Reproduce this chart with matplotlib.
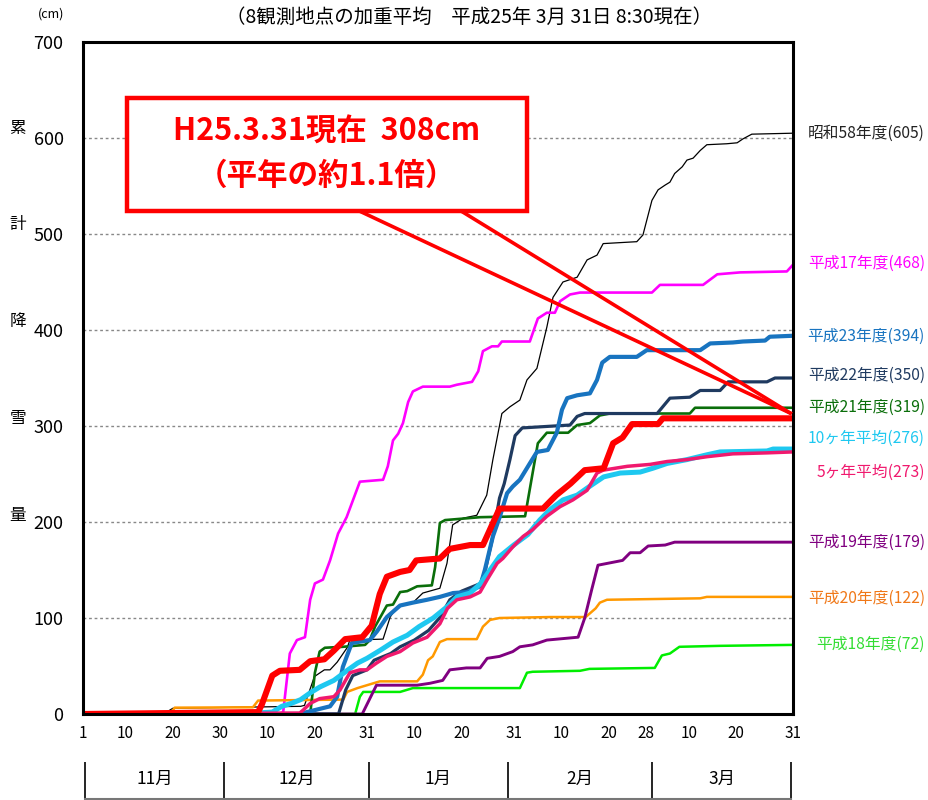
import matplotlib
matplotlib.use("Agg")
import matplotlib.pyplot as plt
from matplotlib.patches import Rectangle

plt.rcParams['font.family'] = ['Noto Sans CJK JP', 'DejaVu Sans']

# 日付インデックス: 0 = 11月1日, 150 = 3月31日
tick_days = [0, 9, 19, 29, 39, 49, 60, 70, 80, 91, 101, 111, 119, 128, 138, 150]
tick_labels = ["1", "10", "20", "30", "10", "20", "31", "10", "20", "31",
               "10", "20", "28", "10", "20", "31"]
month_names = ["11月", "12月", "1月", "2月", "3月"]
month_edges = [0.4, 29.8, 60.4, 89.8, 120.2, 149.6]

# 各年度の累計降雪量 (日インデックス, cm) — 図から読み取り
s58_days = [0, 17, 19, 46, 46.8, 48.9, 51, 52.2, 53.7, 55.8, 56.4, 63.4, 64.9, 66.4, 69.7, 71.8,
            75.4, 76.9, 78.1, 80.3, 83.2, 85.3, 86.6, 88.5, 90.2, 92.3, 93.8, 95.9, 98, 99.3,
            101.4, 104.4, 106.5, 108.6, 109.9, 117, 118.3, 120.2, 121.5, 123, 124, 125, 126.6,
            127.6, 128.9, 130.4, 131.8, 136, 138.2, 139.4, 141.3, 150]
s58_vals = [0, 0, 6, 8, 9, 39, 46, 46, 54, 69, 77, 78, 101, 112, 116, 126,
            131, 157, 197, 204, 207, 228, 265, 313, 320, 327, 348, 360, 403, 434,
            450, 455, 473, 478, 490, 492, 499, 535, 546, 551, 554, 563, 570,
            577, 579, 587, 593, 594, 595, 599, 604, 605]

h17_days = [0, 41.5, 42.3, 43.7, 45.2, 46.9, 48, 49, 50.7, 52.2, 53.9, 55.7, 58.5, 63.4, 64.4,
            65.5, 66.6, 67.6, 68.7, 69.7, 71.8, 77.5, 79, 82.2, 83.5, 84.5, 86.4, 87.7, 88.5,
            94.4, 96.1, 98, 99.7, 100.8, 102.9, 105, 120.2, 121.9, 131, 134, 138.8, 148.7, 150]
h17_vals = [0, 0, 2, 63, 77, 80, 119, 136, 140, 160, 188, 205, 242, 244, 258,
            285, 292, 303, 325, 336, 341, 341, 343, 346, 357, 378, 383, 383, 388,
            388, 412, 418, 418, 430, 437, 439, 439, 447, 447, 458, 460, 461, 468]

h23_days = [0, 45.8, 47.3, 52.2, 53.7, 54.9, 56.8, 60.6, 62.1, 64.2, 67, 69.7, 72.7, 75.4, 78.2,
            81.1, 83.9, 84.9, 86.6, 88.1, 89.6, 90.8, 92.3, 94.4, 95.9, 98.2, 100.1, 101.2,
            102.3, 104.4, 107.1, 108.6, 109.7, 111.3, 117, 119.1, 130.4, 132.5, 137.3, 139.4,
            144.1, 145.1, 150]
h23_vals = [0, 0, 2, 8, 18, 49, 74, 77, 86, 101, 113, 116, 119, 122, 126,
            127, 133, 150, 185, 206, 230, 237, 244, 261, 273, 275, 293, 317,
            329, 332, 334, 348, 366, 372, 372, 379, 379, 386, 387, 388,
            389, 393, 394]

h22_days = [0, 54, 55.5, 57, 60, 61.5, 65, 67, 70, 73, 75.5, 77.5, 80, 84, 85, 86.6, 88, 89,
            90.2, 91.3, 92.8, 102.9, 104.4, 106, 121.3, 124, 128.2, 130.4, 134.6, 136.3, 144.5,
            146.2, 150]
h22_vals = [0, 0, 25, 40, 46, 56, 63, 70, 77, 87, 101, 119, 128, 136, 150, 185, 225, 240,
            265, 290, 298, 301, 310, 313, 313, 329, 330, 337, 337, 346, 346,
            350, 350]

h21_days = [0, 48, 49, 50, 51.1, 54.9, 59.6, 60.6, 61.7, 64.2, 65.5, 67, 68.5, 70.6, 73.7, 74.4,
            75.4, 76.5, 83.9, 93.4, 95.1, 96.1, 98, 102.5, 104.4, 107.1, 109.2, 111.3, 128.2,
            129.3, 150]
h21_vals = [0, 0, 43, 65, 69, 70, 72, 77, 91, 113, 114, 127, 128, 133, 134, 153,
            199, 202, 205, 206, 254, 282, 293, 293, 301, 303, 311, 313, 313,
            319, 319]

avg10_days = [0, 33, 40, 42, 44, 46, 48, 50, 53, 56, 58, 60, 63, 65.5, 68.5, 71, 74, 77, 79, 81.8,
              84, 86, 88, 91, 94, 96.5, 98.7, 101.4, 104.4, 107, 110, 113.5, 117.7, 120.4, 123.4,
              127.6, 131.8, 134.6, 144.5, 145.8, 150]
avg10_vals = [0, 0, 2, 8, 11, 15, 22, 28, 35, 46, 53, 58, 67, 75, 82, 91, 100, 112, 122, 126,
              136, 150, 164, 176, 187, 202, 213, 223, 228, 237, 247, 251, 252, 256, 261,
              265, 270, 273, 274, 276, 276]

avg5_days = [0, 45.8, 46.5, 48, 50, 53, 54.3, 56.4, 58.5, 60, 62, 64.2, 67, 69.7, 72.7, 75.4, 77,
             79, 81.8, 83.9, 85.4, 87.5, 88.7, 90.8, 93, 95, 98, 100.8, 103.5, 106.5, 108.6,
             109.9, 115, 119.8, 123.4, 127.6, 131.8, 137.3, 144.5, 150]
avg5_vals = [0, 1, 4, 11, 16, 18, 25, 43, 46, 46, 53, 60, 65, 74, 80, 94, 110,
             119, 122, 127, 140, 157, 162, 174, 185, 192, 206, 216, 223, 233, 251,
             254, 258, 260, 263, 265, 268, 271, 272, 273]

h19_days = [0, 59, 62, 70.6, 73.3, 76, 77.5, 81, 83.9, 85.4, 88, 90.8, 92.3, 95, 98, 104.6, 106,
            107.5, 108.8, 114, 115.6, 117.7, 119.4, 123, 125, 150]
h19_vals = [0, 0, 30, 30, 32, 35, 46, 48, 48, 58, 60, 65, 70, 72, 77, 80, 100,
            130, 155, 160, 168, 168, 175, 176, 179, 179]

h20_days = [0, 18.4, 19.4, 35.9, 37, 55, 55.8, 58, 59, 62.7, 70.6, 71.8, 72.9, 73.9, 75.4, 76.9,
            83.2, 84.5, 86, 88, 98.7, 106.2, 108.3, 109.2, 110.7, 130.4, 131.8, 150]
h20_vals = [0, 0, 6.6, 7, 14, 15, 23, 27, 28.5, 34, 34, 41, 56, 60, 75, 78,
            78, 91, 98, 100, 101, 101, 110, 116, 119, 120.5, 122, 122]

h18_days = [0, 57.5, 58.5, 59.2, 67, 69.7, 92.3, 93.8, 95, 105, 107, 120.8, 122.3, 124, 126,
            134.6, 150]
h18_vals = [0, 0, 18, 23, 23, 27, 27, 43, 44, 45, 47, 48, 61, 63, 70, 71, 72]

h24_days = [0, 37, 37.8, 40, 41.6, 45.8, 48, 51, 53, 55.4, 59, 61, 62.7, 64.2, 67, 69, 70.4,
            75.4, 77.5, 81.8, 84.5, 88, 97.2, 100, 103, 106, 110, 112, 114, 116, 121.5, 122.5,
            150]
h24_vals = [0, 2, 10, 40, 45, 46, 55, 57, 66, 78, 80, 92, 125, 143, 148, 150, 160,
            162, 172, 176, 176, 214, 214, 228, 240, 254, 256, 282, 288, 302, 302, 308,
            308]

# 系列: (日, 値, 色, 線幅, 右端ラベル, ラベル位置cm, ラベル色)
series = [
    (s58_days, s58_vals, "black", 0.9, "昭和58年度(605)", 605, "#222222"),
    (h17_days, h17_vals, "#ff00ff", 1.9, "平成17年度(468)", 469, "#ff00ff"),
    (h20_days, h20_vals, "#ff9900", 1.8, "平成20年度(122)", 120, "#f07818"),
    (h18_days, h18_vals, "#00ee00", 1.8, "平成18年度(72)", 73, "#33dd33"),
    (h19_days, h19_vals, "#800080", 2.1, "平成19年度(179)", 179, "#800080"),
    (h21_days, h21_vals, "#0a6e0a", 1.9, "平成21年度(319)", 319, "#0a6e0a"),
    (h22_days, h22_vals, "#1f3a60", 2.3, "平成22年度(350)", 353, "#1f3a60"),
    (h23_days, h23_vals, "#1874c0", 3.0, "平成23年度(394)", 393, "#1874c0"),
    (avg10_days, avg10_vals, "#1ec8f0", 3.6, "10ヶ年平均(276)", 287, "#1ec8f0"),
    (avg5_days, avg5_vals, "#f0196e", 2.5, "5ヶ年平均(273)", 252, "#f0196e"),
    (h24_days, h24_vals, "#ff0000", 4.4, None, None, None),
]

fig = plt.figure(figsize=(9.29, 8.0), dpi=100)
ax = fig.add_axes([0.0893, 0.1075, 0.7643, 0.84])

for days, vals, color, lw, label, label_y, label_color in series:
    ax.plot(days, vals, color=color, lw=lw, solid_joinstyle="round")
    if label:
        ax.text(1.186, label_y, label, transform=ax.get_yaxis_transform(),
                ha="right", va="center", fontsize=11.3, color=label_color)

ax.set_xlim(0, 150)
ax.set_ylim(0, 700)
ax.set_yticks(range(0, 701, 100))
ax.set_yticklabels([str(v) for v in range(0, 701, 100)], fontsize=13)
ax.set_xticks(tick_days)
ax.set_xticklabels(tick_labels, fontsize=11)
ax.tick_params(length=0, pad=8)
ax.tick_params(axis="y", pad=14)
for v in range(100, 700, 100):
    ax.axhline(v, color="#888888", lw=1, ls=(0, (2, 2)), zorder=0)
for sp in ax.spines.values():
    sp.set_linewidth(2.2)

# 縦書きの軸ラベル
for i, ch in enumerate("累計降雪量"):
    fig.text(0.019, 0.84 - i * 0.121, ch, fontsize=12, ha="center", va="center")
fig.text(0.055, 0.982, "(cm)", fontsize=9, ha="center", va="center")
fig.text(0.505, 0.978, "（8観測地点の加重平均　平成25年 3月 31日 8:30現在）",
         fontsize=14, ha="center", va="center")

# 注記ボックスと吹き出し線
ax.add_patch(Rectangle((0.062, 0.748), 0.564, 0.168, transform=ax.transAxes,
                       fill=True, facecolor="white", edgecolor="#ff0000", lw=3.2, zorder=5))
ax.text(0.343, 0.866, "H25.3.31現在  308cm", transform=ax.transAxes, fontsize=22,
        color="#ff0000", fontweight="bold", ha="center", va="center", zorder=6)
ax.text(0.343, 0.8, "（平年の約1.1倍）", transform=ax.transAxes, fontsize=22,
        color="#ff0000", fontweight="bold", ha="center", va="center", zorder=6)
ax.plot([57.5, 149.4], [526, 313.5], color="#ff0000", lw=2.6, zorder=4)
ax.plot([79.2, 149.4], [526, 313.5], color="#ff0000", lw=2.6, zorder=4)

# 月の表
mx = fig.add_axes([0.0893, 0.0, 0.7643, 0.0475])
mx.set_xlim(0, 150)
mx.set_ylim(0, 1)
mx.axis("off")
for e in month_edges:
    mx.plot([e, e], [0.03, 1], color="black", lw=1.2)
mx.plot([month_edges[0], month_edges[-1]], [0.03, 0.03], color="#777777", lw=1.5)
for i, name in enumerate(month_names):
    mx.text((month_edges[i] + month_edges[i + 1]) / 2, 0.55, name, fontsize=12.5,
            ha="center", va="center")

fig.savefig("out.png", dpi=100)
